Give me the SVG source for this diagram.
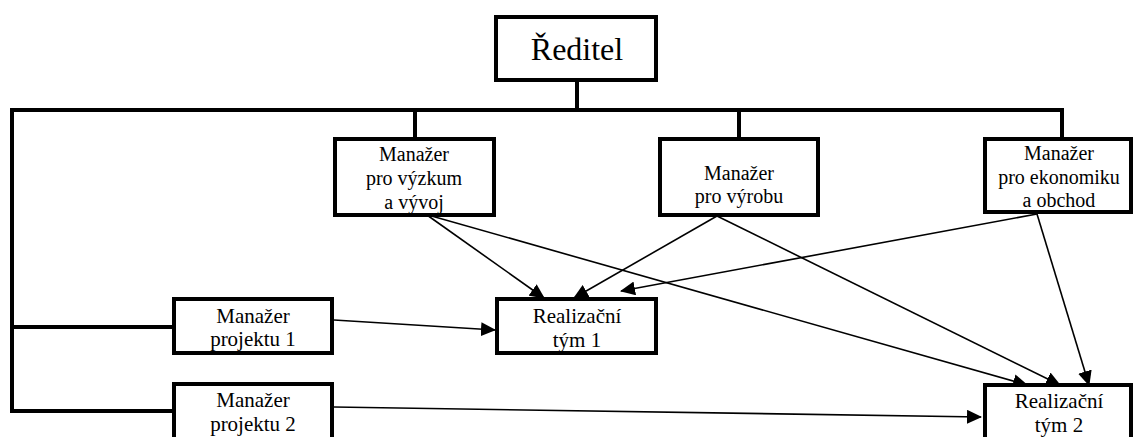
<svg xmlns="http://www.w3.org/2000/svg" width="1134" height="437" viewBox="0 0 1134 437">
  <style>
    .box { fill: #fff; stroke: #000; stroke-width: 4; }
    .org { fill: none; stroke: #000; stroke-width: 4; }
    .link { fill: none; stroke: #000; stroke-width: 1.6; marker-end: url(#arrow); }
    text { fill: #000; text-anchor: middle; }
    .s { font-size: 20px; }
    .m { font-size: 21px; }
    .l { font-size: 32px; }
  </style>
  <defs>
    <marker id="arrow" markerUnits="userSpaceOnUse" markerWidth="15" markerHeight="14" refX="14" refY="7" orient="auto">
      <path d="M0,0 L15,7 L0,14 Z" fill="#000"/>
    </marker>
  </defs>

  <!-- reporting lines -->
  <g id="hierarchy">
    <path class="org" d="M577,82 V110"/>
    <path class="org" d="M12,110 H1062 V137"/>
    <path class="org" d="M415,110 V137"/>
    <path class="org" d="M739,110 V137"/>
    <path class="org" d="M12,108 V411 H174"/>
    <path class="org" d="M12,327 H174"/>
  </g>

  <!-- assignment arrows -->
  <g id="connectors">
    <line class="link" x1="427" y1="215" x2="544" y2="298"/>
    <line class="link" x1="428" y1="215" x2="1027" y2="385"/>
    <line class="link" x1="717" y1="216" x2="574" y2="298"/>
    <line class="link" x1="717" y1="216" x2="1060" y2="385"/>
    <line class="link" x1="1037" y1="214" x2="621" y2="291"/>
    <line class="link" x1="1037" y1="214" x2="1089" y2="385"/>
    <line class="link" x1="334" y1="320" x2="495" y2="330"/>
    <line class="link" x1="334" y1="407" x2="981" y2="417"/>
  </g>

  <g font-family="'Liberation Serif', 'Times New Roman', Times, serif">
    <g id="reditel">
      <rect class="box" x="496" y="17" width="160" height="63"/>
      <text class="l" x="577" y="60">Ředitel</text>
    </g>

    <g id="manazer-vyzkum">
      <rect class="box" x="335" y="139" width="159" height="76"/>
      <text class="s" x="414" y="161">Manažer</text>
      <text class="s" x="414" y="185">pro výzkum</text>
      <text class="s" x="414" y="209">a vývoj</text>
    </g>

    <g id="manazer-vyroba">
      <rect class="box" x="660" y="139" width="158" height="76"/>
      <text class="s" x="739" y="180">Manažer</text>
      <text class="s" x="739" y="203">pro výrobu</text>
    </g>

    <g id="manazer-ekonomika">
      <rect class="box" x="985" y="139" width="146" height="73"/>
      <text class="s" x="1059" y="160">Manažer</text>
      <text class="s" x="1059" y="184">pro ekonomiku</text>
      <text class="s" x="1059" y="207">a obchod</text>
    </g>

    <g id="manazer-projektu-1">
      <rect class="box" x="174" y="299" width="158" height="54"/>
      <text class="m" x="253" y="323">Manažer</text>
      <text class="m" x="253" y="346">projektu 1</text>
    </g>

    <g id="manazer-projektu-2">
      <rect class="box" x="174" y="384" width="158" height="70"/>
      <text class="m" x="253" y="407">Manažer</text>
      <text class="m" x="253" y="431">projektu 2</text>
    </g>

    <g id="realizacni-tym-1">
      <rect class="box" x="497" y="299" width="159" height="54"/>
      <text class="m" x="577" y="323">Realizační</text>
      <text class="m" x="577" y="347">tým 1</text>
    </g>

    <g id="realizacni-tym-2">
      <rect class="box" x="985" y="385" width="146" height="70"/>
      <text class="m" x="1059" y="408">Realizační</text>
      <text class="m" x="1059" y="432">tým 2</text>
    </g>
  </g>
</svg>
